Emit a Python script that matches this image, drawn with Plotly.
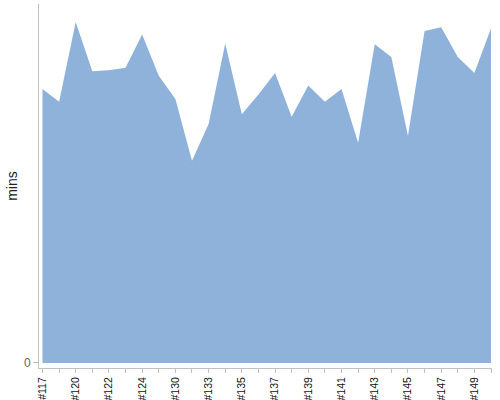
import plotly.graph_objects as go

# builds (ids) and duration in minutes
builds = ["#117", "#119", "#120", "#121", "#122", "#123", "#124", "#127",
          "#130", "#131", "#133", "#134", "#135", "#136", "#137", "#138",
          "#139", "#140", "#141", "#142", "#143", "#144", "#145", "#146",
          "#147", "#148", "#149", "#150"]
mins = [30.6, 29.2, 38.1, 32.6, 32.7, 33.0, 36.7, 32.1,
        29.5, 22.6, 26.7, 35.7, 27.8, 30.0, 32.4, 27.5,
        31.0, 29.2, 30.6, 24.6, 35.6, 34.2, 25.4, 37.1,
        37.5, 34.2, 32.4, 37.4]

# only every other build gets a label
tick_text = [b if i % 2 == 0 else "" for i, b in enumerate(builds)]

fig = go.Figure()
fig.add_trace(go.Scatter(x=builds, y=mins, mode="lines", fill="tozeroy",
                         line=dict(width=0, color="rgb(143,178,219)"),
                         fillcolor="rgb(143,178,219)", showlegend=False))

fig.update_xaxes(type="category", range=[-0.21, 27.06], automargin=False,
                 tickmode="array", tickvals=builds, ticktext=tick_text,
                 tickangle=-90, ticks="outside", ticklen=4, tickcolor="#c0c0c0",
                 showline=True, linecolor="#c0c0c0", showgrid=False, zeroline=False,
                 tickfont=dict(family="Liberation Sans, Arial", size=10.5, color="#111"))
fig.update_yaxes(range=[-0.56, 40.11], automargin=False, tickmode="array", tickvals=[0],
                 ticks="outside", ticklen=5, tickcolor="#c0c0c0",
                 showline=True, linecolor="#c0c0c0", showgrid=False, zeroline=False,
                 tickfont=dict(family="Liberation Sans, Arial", size=12, color="#666"),
                 title=dict(text="mins", standoff=3,
                            font=dict(family="Liberation Sans, Arial", size=14, color="#222")))

fig.update_layout(width=500, height=400, margin=dict(l=39, r=8, t=4, b=32),
                  plot_bgcolor="white", paper_bgcolor="white")

# no page margin so the chart sits at the window corner
fig.write_html("out.html", config={"displayModeBar": False},
               post_script="document.body.style.margin='0';")
